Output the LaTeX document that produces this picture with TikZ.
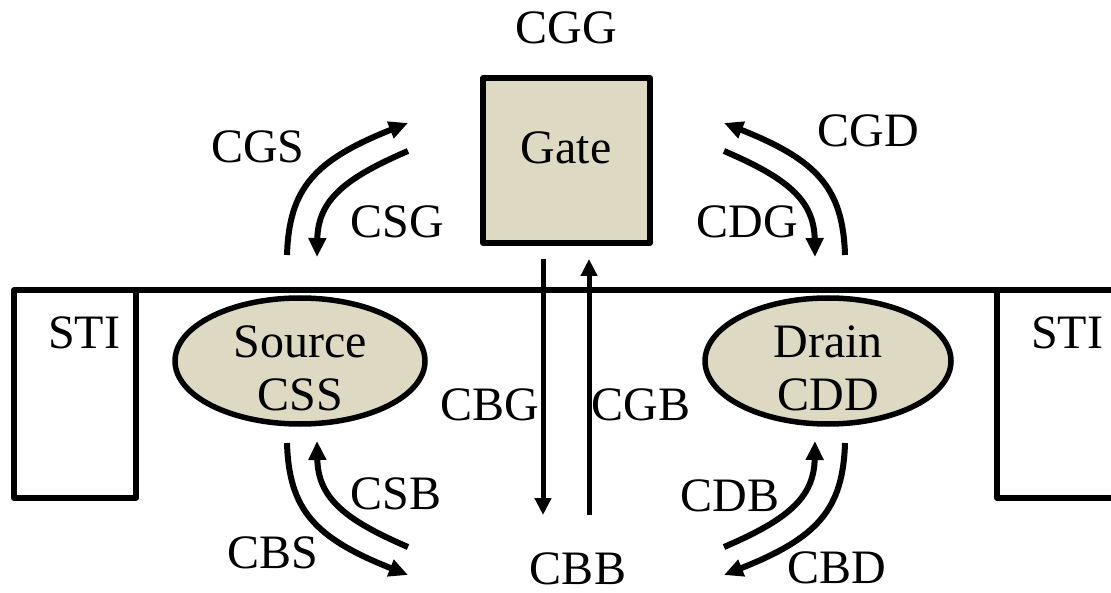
\documentclass[tikz,border=0pt]{standalone}
\usepackage{fontspec}
\setmainfont{Liberation Serif}
\usetikzlibrary{arrows.meta,shapes.geometric}
\definecolor{tan}{HTML}{DDD9C3}
\begin{document}
\begin{tikzpicture}[x=1pt,y=-1pt,
  lbl/.style={inner sep=0pt,font=\fontsize{48}{53}\selectfont,align=center},
  box/.style={draw,line width=5.5pt,line join=round},
  curvearrow/.style={line width=6pt,-{Triangle[length=19pt,width=17pt]}},
  vertarrow/.style={line width=5pt,-{Triangle[length=17pt,width=16pt]}}]
\useasboundingbox (0,0) rectangle (1111,593);
% surface and STI
\draw[box] (14,290) -- (1111,290);
\draw[box] (14,290) rectangle (136,498);
\draw[box] (997,290) -- (997,498) -- (1115,498);
\node[lbl] (stil) at (84,333) {STI};
\node[lbl] (stir) at (1067,333) {STI};
% gate
\node[box,fill=tan,rectangle,minimum width=167pt,minimum height=165pt,inner sep=0pt] (gate) at (566.5,160.5) {};
\node[lbl] (gatet) at (566,148) {Gate};
\node[lbl] (cgg) at (566,28) {CGG};
% source and drain
\node[box,fill=tan,ellipse,minimum width=250pt,minimum height=126pt,inner sep=0pt] (src) at (300,361) {};
\node[lbl] (srct) at (300,368) {Source\\CSS};
\node[box,fill=tan,ellipse,minimum width=246pt,minimum height=126pt,inner sep=0pt] (drn) at (828,361) {};
\node[lbl] (drnt) at (828,368) {Drain\\CDD};
% coordinates for arrow ends
\coordinate (gs0) at (287,255);  \coordinate (gs1) at (408,123);
\coordinate (sg0) at (408,151);  \coordinate (sg1) at (317,257);
\coordinate (gd0) at (845,255);  \coordinate (gd1) at (724,123);
\coordinate (dg0) at (724,151);  \coordinate (dg1) at (815,257);
\coordinate (bs0) at (287,443);  \coordinate (bs1) at (408,575);
\coordinate (sb0) at (408,547);  \coordinate (sb1) at (317,441);
\coordinate (db0) at (724,547);  \coordinate (db1) at (815,441);
\coordinate (bd0) at (845,443);  \coordinate (bd1) at (724,575);
\coordinate (bg0) at (543,259);  \coordinate (bg1) at (543,515);
\coordinate (gb0) at (589,515);  \coordinate (gb1) at (589,259);
% curved arrows
\draw[curvearrow] (gs0) .. controls (289,188) and (315,160) .. (gs1);
\draw[curvearrow] (sg0) .. controls (345,178) and (318,200) .. (sg1);
\draw[curvearrow] (gd0) .. controls (843,188) and (817,160) .. (gd1);
\draw[curvearrow] (dg0) .. controls (787,178) and (814,200) .. (dg1);
\draw[curvearrow] (bs0) .. controls (289,510) and (315,538) .. (bs1);
\draw[curvearrow] (sb0) .. controls (345,520) and (318,498) .. (sb1);
\draw[curvearrow] (db0) .. controls (787,520) and (814,498) .. (db1);
\draw[curvearrow] (bd0) .. controls (843,510) and (817,538) .. (bd1);
% vertical arrows
\draw[vertarrow] (bg0) -- (bg1);
\draw[vertarrow] (gb0) -- (gb1);
% labels
\node[lbl] (cgs) at (258,147) {CGS};
\node[lbl] (csg) at (397,222) {CSG};
\node[lbl] (cgd) at (868,131) {CGD};
\node[lbl] (cdg) at (747,222) {CDG};
\node[lbl] (csb) at (396,494) {CSB};
\node[lbl] (cbs) at (273,553) {CBS};
\node[lbl] (cdb) at (730,496) {CDB};
\node[lbl] (cbd) at (837,568) {CBD};
\node[lbl] (cbg) at (490,405) {CBG};
\node[lbl] (cgb) at (641,405) {CGB};
\node[lbl] (cbb) at (578,569) {CBB};
\end{tikzpicture}
\end{document}
